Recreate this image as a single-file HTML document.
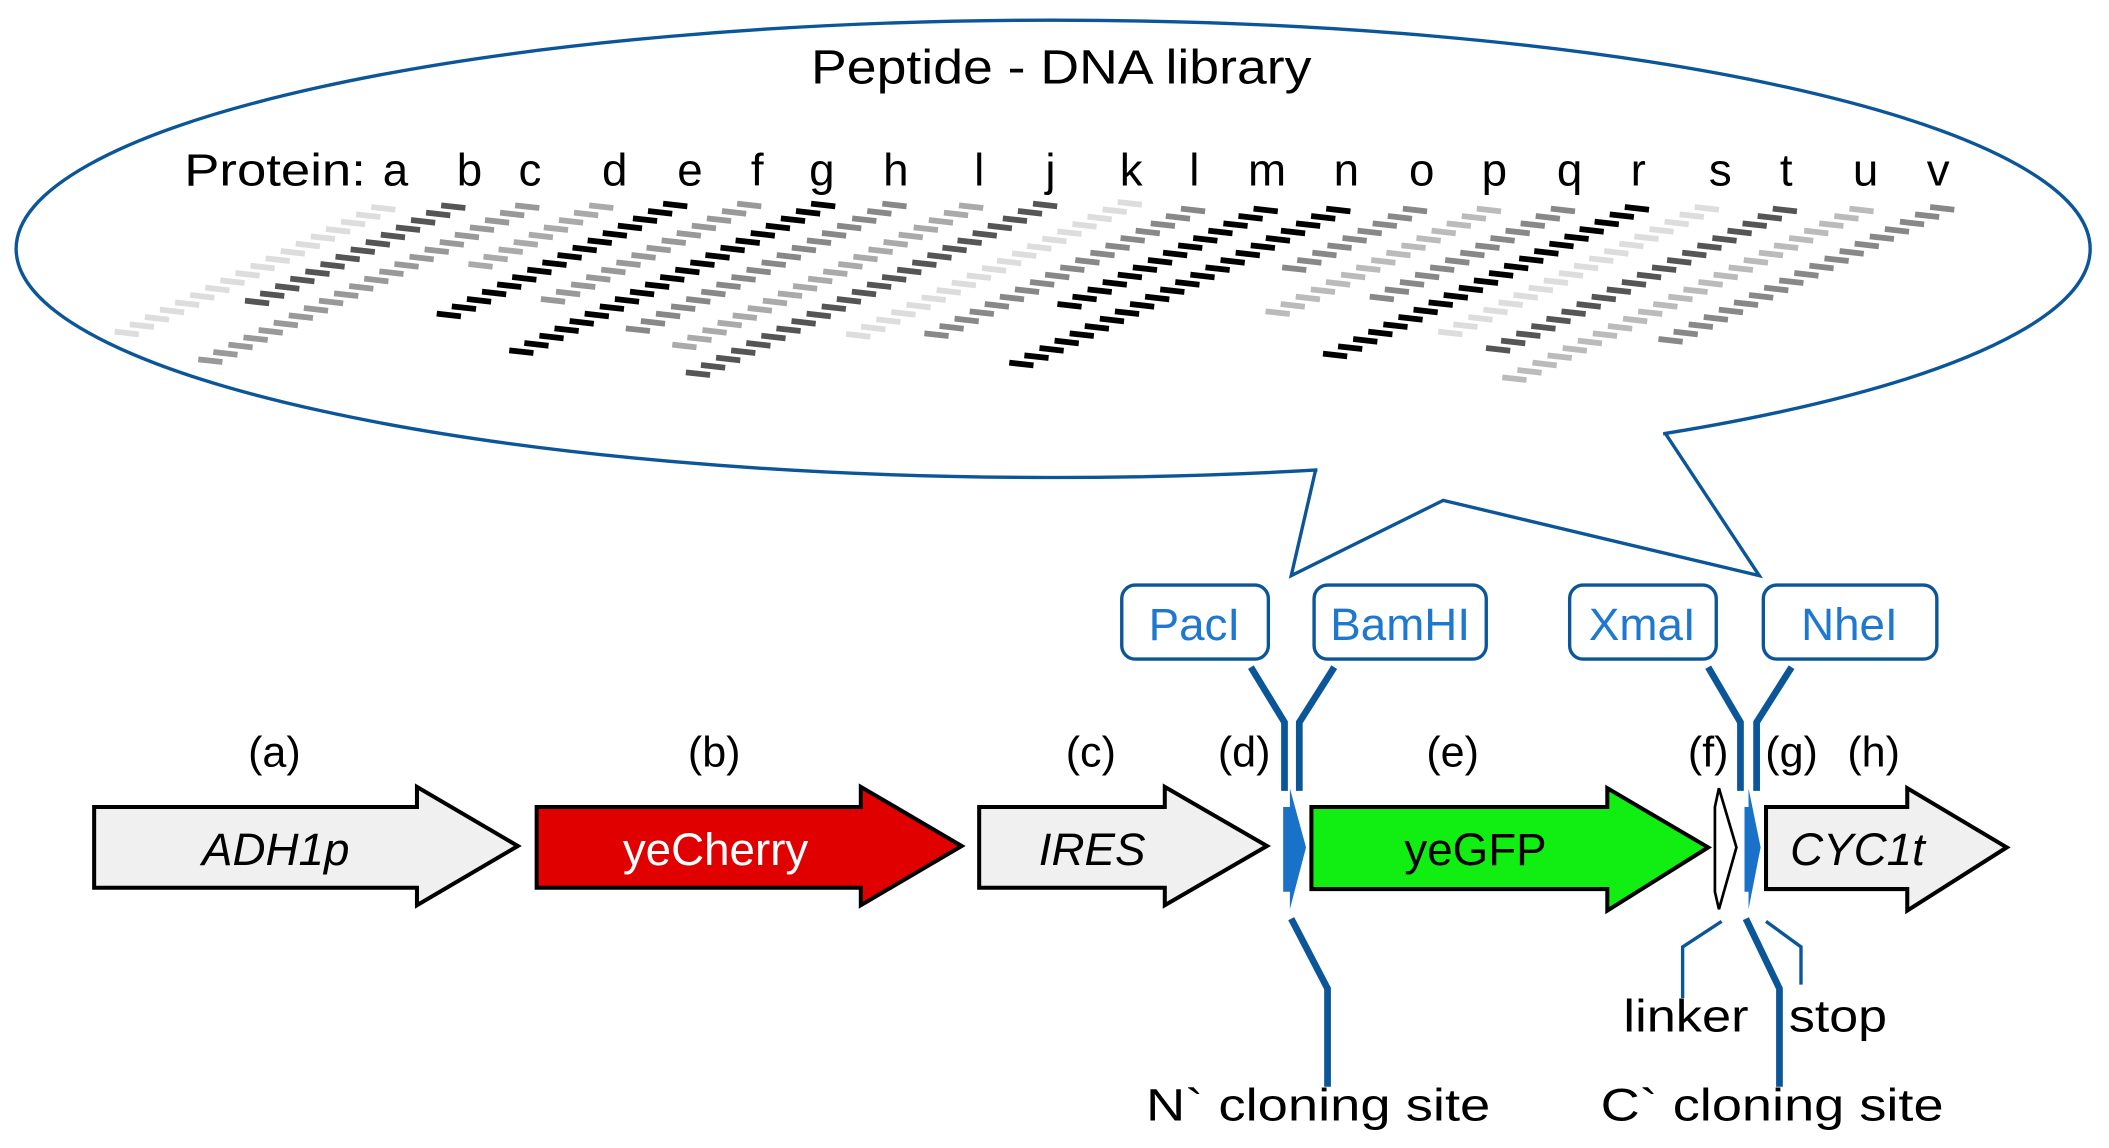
<!DOCTYPE html>
<html><head><meta charset="utf-8"><style>
html,body{margin:0;padding:0;background:#fff;}
svg{display:block;}
text{font-family:"Liberation Sans",sans-serif;}
</style></head><body>
<svg id="s" width="2109" height="1148" viewBox="0 0 1568 853.5" xmlns="http://www.w3.org/2000/svg">
<ellipse cx="783" cy="185" rx="771" ry="170" fill="none" stroke="#0b5599" stroke-width="2.5"/>
<polygon points="979.5,338 1236.5,314 1236.5,336 979.5,362" fill="#fff"/>
<polyline points="978,350 960,428 1073,372 1308,428 1238,322" fill="none" stroke="#0b5599" stroke-width="2.5"/>
<text x="789" y="62" font-size="36" text-anchor="middle" textLength="372" lengthAdjust="spacingAndGlyphs">Peptide - DNA library</text>
<g font-size="34">
<text x="137" y="138" textLength="135" lengthAdjust="spacingAndGlyphs">Protein:</text>
<text x="294" y="138" text-anchor="middle">a</text><text x="349" y="138" text-anchor="middle">b</text>
<text x="394" y="138" text-anchor="middle">c</text><text x="457" y="138" text-anchor="middle">d</text>
<text x="513" y="138" text-anchor="middle">e</text><text x="563" y="138" text-anchor="middle">f</text>
<text x="611" y="138" text-anchor="middle">g</text><text x="666" y="138" text-anchor="middle">h</text>
<text x="728" y="138" text-anchor="middle">l</text><text x="781" y="138" text-anchor="middle">j</text>
<text x="841" y="138" text-anchor="middle">k</text><text x="888" y="138" text-anchor="middle">l</text>
<text x="942" y="138" text-anchor="middle">m</text><text x="1001" y="138" text-anchor="middle">n</text>
<text x="1057" y="138" text-anchor="middle">o</text><text x="1111" y="138" text-anchor="middle">p</text>
<text x="1167" y="138" text-anchor="middle">q</text><text x="1218" y="138" text-anchor="middle">r</text>
<text x="1279" y="138" text-anchor="middle">s</text><text x="1328" y="138" text-anchor="middle">t</text>
<text x="1387" y="138" text-anchor="middle">u</text><text x="1441" y="138" text-anchor="middle">v</text>
</g>
<g id="dashes" stroke-width="4.3"></g>

<g font-size="32" text-anchor="middle">
<text x="204" y="570">(a)</text><text x="531" y="570">(b)</text><text x="811" y="570">(c)</text>
<text x="925" y="570">(d)</text><text x="1080" y="570">(e)</text><text x="1270" y="570">(f)</text>
<text x="1332" y="570">(g)</text><text x="1393" y="570">(h)</text>
</g>

<g stroke="#000" stroke-width="3" stroke-linejoin="miter">
<polygon points="70,600 310,600 310,585 385,629 310,673 310,660 70,660" fill="#f0f0f0"/>
<polygon points="399,600 640,600 640,585 715,629 640,673 640,660 399,660" fill="#e00000"/>
<polygon points="728,600 866,600 866,585 942,629 866,673 866,660 728,660" fill="#f0f0f0"/>
<polygon points="975,600 1195,600 1195,586 1270,630 1195,677 1195,661 975,661" fill="#11ee11"/>
<polygon points="1313,600 1418,600 1418,586 1492,630 1418,677 1418,661 1313,661" fill="#f0f0f0"/>
<polygon points="1275,600 1278,586 1291,630 1278,676 1275,663" fill="#fff" stroke-width="2"/>
</g>
<polygon points="959,586 971,630 959,676 959,663 954,663 954,600 959,600" fill="#1a72c8"/>
<polygon points="1300,586 1309,630 1300,676 1300,663 1297,663 1297,600 1300,600" fill="#1a72c8"/>
<text x="205" y="643" font-size="34" font-style="italic" text-anchor="middle">ADH1p</text>
<text x="532" y="643" font-size="34" fill="#fff" text-anchor="middle">yeCherry</text>
<text x="812" y="643" font-size="34" font-style="italic" text-anchor="middle">IRES</text>
<text x="1097" y="643" font-size="34" text-anchor="middle">yeGFP</text>
<text x="1381" y="643" font-size="34" font-style="italic" text-anchor="middle">CYC1t</text>

<g fill="#fff" stroke="#0b5599" stroke-width="2.5">
<rect x="834" y="435" width="109" height="55" rx="10"/>
<rect x="977" y="435" width="128" height="55" rx="10"/>
<rect x="1167" y="435" width="109" height="55" rx="10"/>
<rect x="1311" y="435" width="129" height="55" rx="10"/>
</g>
<g font-size="34" fill="#1e78d0" text-anchor="middle">
<text x="888" y="476">PacI</text><text x="1041" y="476">BamHI</text>
<text x="1221" y="476">XmaI</text><text x="1375" y="476">NheI</text>
</g>
<g fill="none" stroke="#0b5599" stroke-width="5">
<polyline points="930,496 955,537 955,588"/>
<polyline points="992,496 966,537 966,588"/>
<polyline points="1270,496 1294,537 1294,588"/>
<polyline points="1332,496 1306,537 1306,588"/>
<polyline points="960,683 987,735 987,808"/>
<polyline points="1298,683 1323,735 1323,808"/>
</g>
<g fill="none" stroke="#0b5599" stroke-width="2.5">
<polyline points="1280,685 1251,704 1251,742"/>
<polyline points="1313,685 1339,704 1339,732"/>
</g>
<g font-size="34">
<text x="1207" y="767" textLength="93" lengthAdjust="spacingAndGlyphs">linker</text>
<text x="1330" y="767" textLength="73" lengthAdjust="spacingAndGlyphs">stop</text>
<text x="852" y="833" textLength="256" lengthAdjust="spacingAndGlyphs">N`  cloning site</text>
<text x="1190" y="833" textLength="255" lengthAdjust="spacingAndGlyphs">C`  cloning site</text>
</g>
</svg>
<script>
var cols=[[288,625,1000,'#ddd'],[340,620,905,'#555'],[395,620,1090,'#999'],[450,620,810,'#aaa'],
[505,615,950,'#000'],[560,615,900,'#999'],[615,615,1065,'#000'],[668,615,995,'#888'],
[725,620,1045,'#aaa'],[780,615,1135,'#555'],[843,610,1015,'#ddd'],[890,630,1010,'#888'],
[944,630,915,'#000'],[998,630,1100,'#000'],[1055,630,820,'#888'],[1110,630,955,'#bbb'],
[1165,630,910,'#888'],[1220,625,1075,'#000'],[1272,625,1000,'#ddd'],[1330,630,1055,'#555'],
[1387,630,1145,'#bbb'],[1447,625,1025,'#888']];
var g=document.getElementById('dashes'),h='';
cols.forEach(function(c){
 for(var zy=c[1];zy<=c[2]+1;zy+=22){
  var x=c[0]-0.51*(zy-c[1])-3,y=zy/4.035;
  h+='<line x1="'+(x-9)+'" y1="'+(y-1)+'" x2="'+(x+9)+'" y2="'+(y+1)+'" stroke="'+c[3]+'"/>';
 }
});
g.innerHTML=h;
</script>
</body></html>
